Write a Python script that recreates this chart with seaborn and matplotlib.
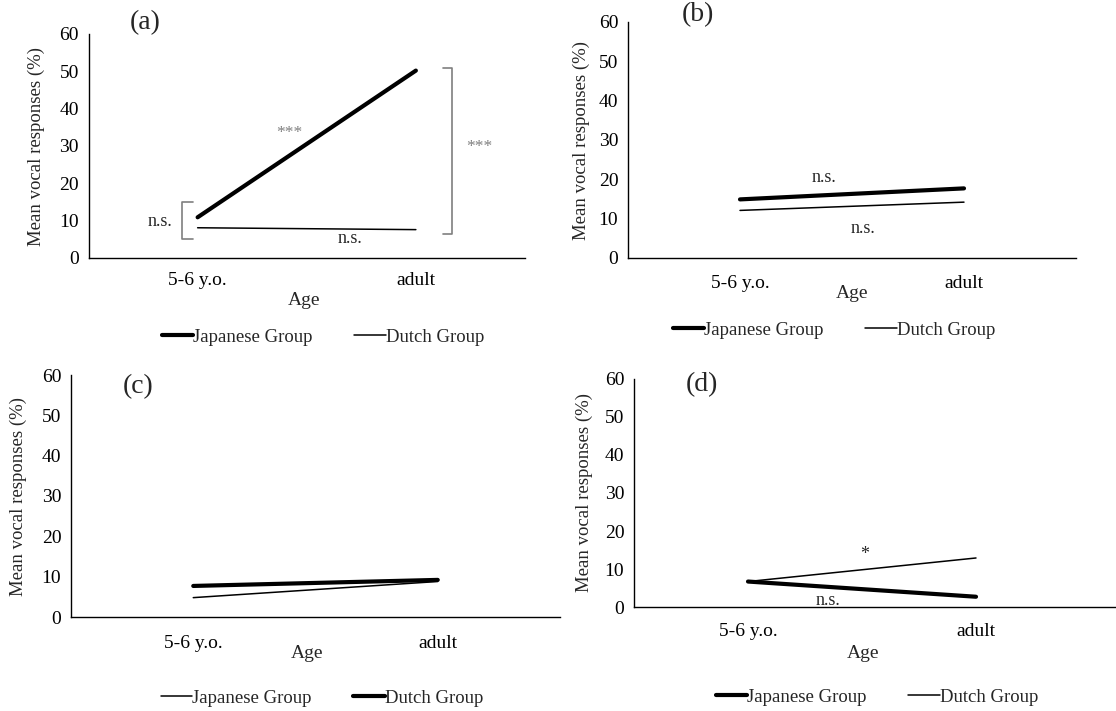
import pandas as pd
import matplotlib
matplotlib.use("Agg")
import matplotlib.pyplot as plt
import seaborn as sns

# Data (mean vocal responses, %)
ages = ["5-6 y.o.", "adult"]
groups = ["Japanese Group", "Dutch Group"]

a_japanese = [10.9, 50.2]
a_dutch = [8.1, 7.6]
b_japanese = [14.9, 17.7]
b_dutch = [12.1, 14.2]
c_japanese = [4.8, 8.8]
c_dutch = [7.7, 9.2]
d_japanese = [6.7, 2.7]
d_dutch = [6.7, 12.9]

sns.set_style("white")
plt.rcParams['font.family'] = ['Liberation Serif', 'DejaVu Serif']

fig = plt.figure(figsize=(11.16, 7.11), dpi=100)

# panel: label, japanese, dutch, japanese thick?, axes rect (px), xmax,
# ylabel x, xlabel (x, y), legend centre (px), panel label pos, x tick pad
panels = [
    ("(a)", a_japanese, a_dutch, True, (88.5, 34, 525, 258), 1.5,
     -0.099, (0.494, -0.15), (323, 337), (-0.31, 63), 10),
    ("(b)", b_japanese, b_dutch, True, (628, 22, 1076, 258), 1.5,
     -0.085, (0.5, -0.115), (834, 330), (-0.26, 61.8), 12),
    ("(c)", c_japanese, c_dutch, False, (71, 375, 560, 617), 1.5,
     -0.09, (0.483, -0.116), (322, 698), (-0.29, 57), 13),
    ("(d)", d_japanese, d_dutch, True, (634, 379, 1116, 607), 1.614,
     -0.085, (0.475, -0.167), (877, 697), (-0.275, 58.4), 11.5),
]

W, H = 1116, 711
axes = []
for name, jp, nl, jp_thick, (x0, y0, x1, y1), xmax, ylx, xl, leg, lab, xpad in panels:
    ax = fig.add_axes([x0 / W, 1 - y1 / H, (x1 - x0) / W, (y1 - y0) / H])
    df = pd.DataFrame({"Age": ages * 2,
                       "resp": jp + nl,
                       "Group": [groups[0]] * 2 + [groups[1]] * 2})
    widths = {groups[0]: 3.0 if jp_thick else 1.1,
              groups[1]: 1.1 if jp_thick else 3.0}
    for g in groups:
        sns.lineplot(data=df[df["Group"] == g], x="Age", y="resp", ax=ax,
                     color="black", linewidth=widths[g], label=g,
                     solid_capstyle="round")
    ax.set_xlim(-0.5, xmax)
    ax.set_ylim(0, 60)
    ax.set_yticks(range(0, 61, 10))
    for s in ["top", "right"]:
        ax.spines[s].set_visible(False)
    for s in ["left", "bottom"]:
        ax.spines[s].set_color("black")
        ax.spines[s].set_linewidth(1.0)
    ax.tick_params(axis="both", length=0, labelsize=14, colors="black")
    ax.tick_params(axis="x", pad=xpad)
    ax.tick_params(axis="y", pad=7)
    ax.set_ylabel("Mean vocal responses (%)", fontsize=13.5)
    ax.yaxis.set_label_coords(ylx, 0.5)
    ax.set_xlabel("Age", fontsize=14)
    ax.xaxis.set_label_coords(*xl)
    ax.text(lab[0], lab[1], name, fontsize=20, ha="left", va="center",
            clip_on=False)
    ax.get_legend().remove()
    handles, labels = ax.get_legend_handles_labels()
    fig.legend(handles, labels, loc="center", ncol=2, frameon=False,
               bbox_to_anchor=(leg[0] / W, 1 - leg[1] / H), fontsize=13.5,
               handlelength=1.7, handletextpad=0.0, columnspacing=2.2)
    axes.append(ax)

gray = "#7f7f7f"
ax = axes[0]
ax.text(0.42, 33.5, "***", color=gray, fontsize=12.5, ha="center", va="center")
ax.plot([1.123, 1.164, 1.164, 1.123], [50.9, 50.9, 6.4, 6.4], color=gray,
        lw=1.2, clip_on=False)
ax.text(1.29, 29.8, "***", color=gray, fontsize=12.5, ha="center", va="center")
ax.plot([-0.023, -0.073, -0.073, -0.023], [15.0, 15.0, 5.1, 5.1], color=gray,
        lw=1.2, clip_on=False)
ax.text(-0.174, 9.7, "n.s.", fontsize=13, ha="center", va="center")
ax.text(0.70, 5.1, "n.s.", fontsize=13, ha="center", va="center")

ax = axes[1]
ax.text(0.375, 20.4, "n.s.", fontsize=13, ha="center", va="center")
ax.text(0.55, 7.6, "n.s.", fontsize=13, ha="center", va="center")

ax = axes[3]
ax.text(0.51, 13.7, "*", fontsize=13, ha="center", va="center")
ax.text(0.35, 1.8, "n.s.", fontsize=13, ha="center", va="center")

plt.savefig("out.png", dpi=100)
